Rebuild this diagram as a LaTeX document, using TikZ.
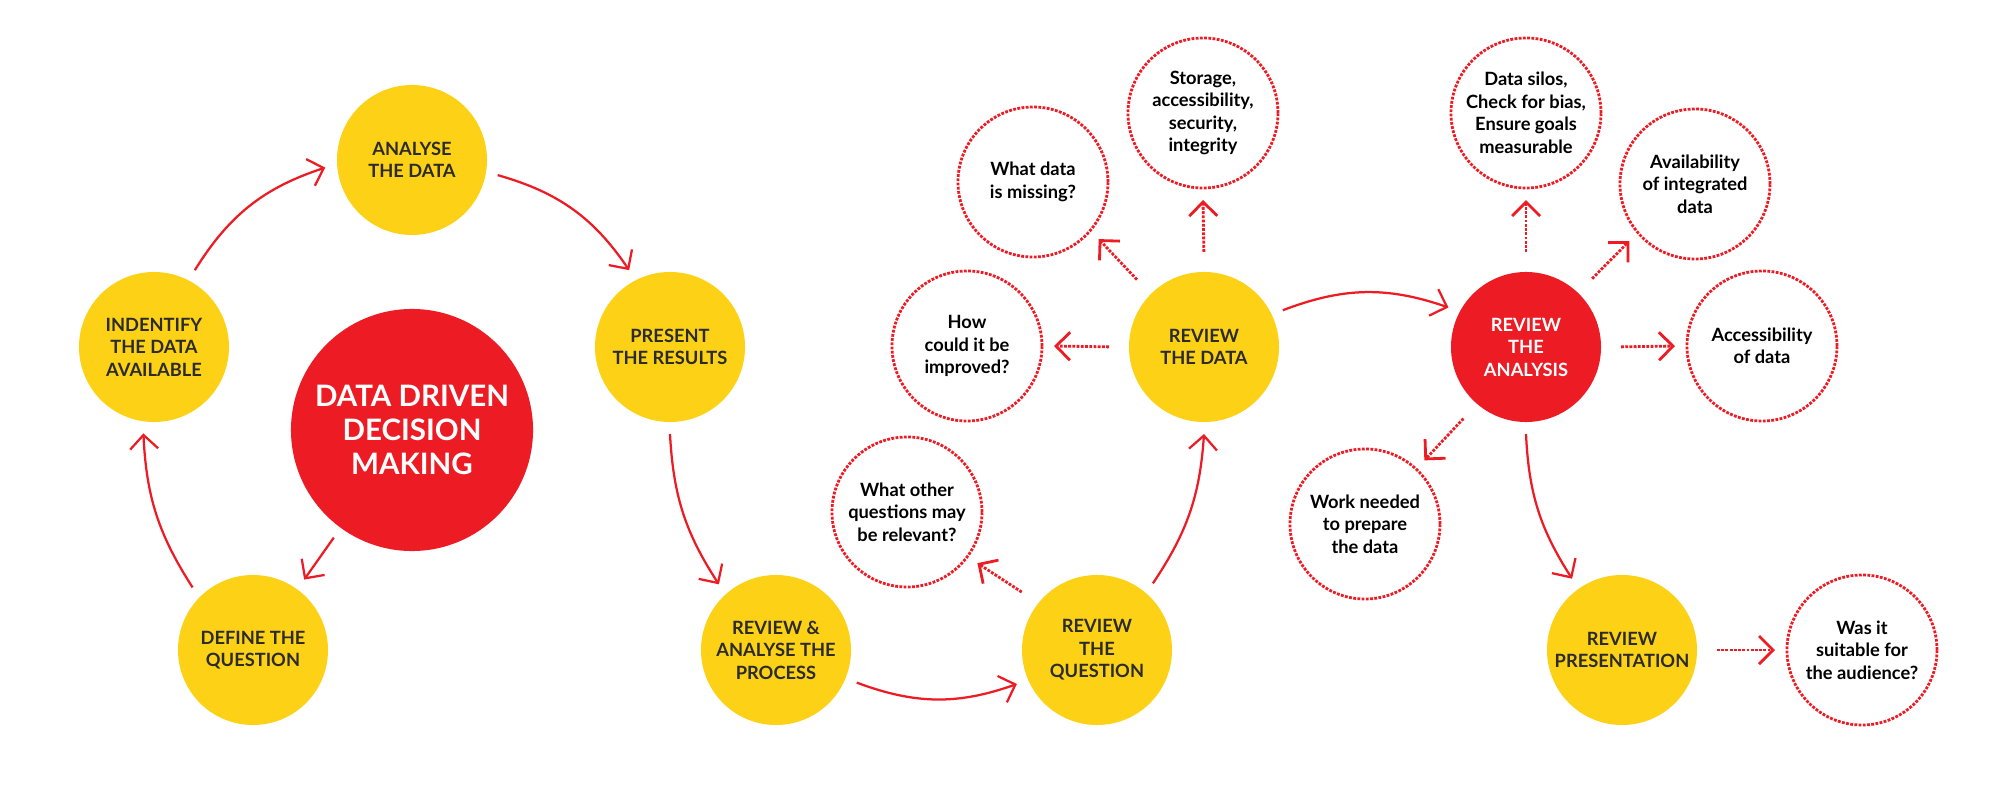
\documentclass[tikz,border=0pt]{standalone}
\usepackage{fontspec}
\setmainfont{Lato}
\usetikzlibrary{arrows.meta}
\definecolor{ddyellow}{HTML}{FCD116}
\definecolor{ddred}{HTML}{ED1C24}
\definecolor{ddtext}{HTML}{2B2B2B}
\newcommand{\arrowcolor}{ddred}
\newcommand{\thickness}{1.6pt}

\begin{document}
\begin{tikzpicture}[x=0.025cm,y=-0.025cm,
  stage/.style={circle,fill=ddyellow,minimum size=3.75cm,inner sep=0pt,outer sep=0.3cm,
    align=center,font=\bfseries\fontsize{13}{16}\selectfont,text=ddtext},
  hot/.style={stage,fill=ddred,text=white},
  note/.style={circle,draw=ddred,densely dotted,line width=2pt,minimum size=3.75cm,inner sep=0pt,
    outer sep=0.3cm,align=center,font=\bfseries\fontsize{13}{16}\selectfont,text=black},
  flow/.style={draw=\arrowcolor,line width=\thickness,-{Straight Barb[length=3.5mm,width=7mm]}},
  hint/.style={draw=\arrowcolor,line width=2pt,densely dotted,shorten <=2mm,
    -{Straight Barb[length=3.5mm,width=7mm]}}]
\useasboundingbox (0,0) rectangle (2000,800);
% left cycle
\node[hot,minimum size=6.05cm,font=\bfseries\fontsize{21}{24}\selectfont] (main) at (412,430) {DATA DRIVEN\\DECISION\\MAKING};
\node[stage] (analyse) at (412,160) {ANALYSE\\THE DATA};
\node[stage] (identify) at (154,347) {INDENTIFY\\THE DATA\\AVAILABLE};
\node[stage] (present) at (670,347) {PRESENT\\THE RESULTS};
\node[stage] (define) at (253,650) {DEFINE THE\\QUESTION};
\draw[flow] (identify.62) to[bend left=20] (analyse.185);
\draw[flow] (analyse.-10) to[bend left=20] (present.118);
\draw[flow] (main.234) -- (define.54);
\draw[flow] (define.134) to[bend left=15] (identify.263);
% review chain
\node[stage] (process) at (776,650) {REVIEW \&\\ANALYSE THE\\PROCESS};
\node[stage] (question) at (1097,650) {REVIEW\\THE\\QUESTION};
\node[stage] (data) at (1204,347) {REVIEW\\THE DATA};
\node[hot] (analysis) at (1526,347) {REVIEW\\THE\\ANALYSIS};
\node[stage] (presentation) at (1622,650) {REVIEW\\PRESENTATION};
\draw[flow] (present.270) to[bend right=15] (process.131);
\draw[flow] (process.-22) to[bend right=20] (question.203);
\draw[flow] (question.50) to[bend right=15] (data.270);
\draw[flow] (data.25) to[bend left=20] (analysis.153);
\draw[flow] (analysis.270) to[bend right=15] (presentation.125);
% notes
\node[note] (other) at (907,512) {What other\\questions may\\be relevant?};
\node[note] (improve) at (967,346) {How\\could it be\\improved?};
\node[note] (missing) at (1033,182) {What data\\is missing?};
\node[note] (storage) at (1203,113) {Storage,\\accessibility,\\security,\\integrity};
\node[note] (silos) at (1526,113) {Data silos,\\Check for bias,\\Ensure goals\\measurable};
\node[note] (avail) at (1695,184) {Availability\\of integrated\\data};
\node[note] (access) at (1762,346) {Accessibility\\of data};
\node[note] (work) at (1365,524) {Work needed\\to prepare\\the data};
\node[note] (suitable) at (1862,650) {Was it\\suitable for\\the audience?};
\draw[hint] (question.142) -- (other.-36);
\draw[hint] (data.180) -- (improve.0);
\draw[hint] (data.135) -- (missing.-41);
\draw[hint] (data.90) -- (storage.270);
\draw[hint] (analysis.90) -- (silos.270);
\draw[hint] (analysis.46) -- (avail.221);
\draw[hint] (analysis.0) -- (access.180);
\draw[hint] (analysis.229) -- (work.47);
\draw[hint] (presentation.0) -- (suitable.180);
\end{tikzpicture}
\end{document}
